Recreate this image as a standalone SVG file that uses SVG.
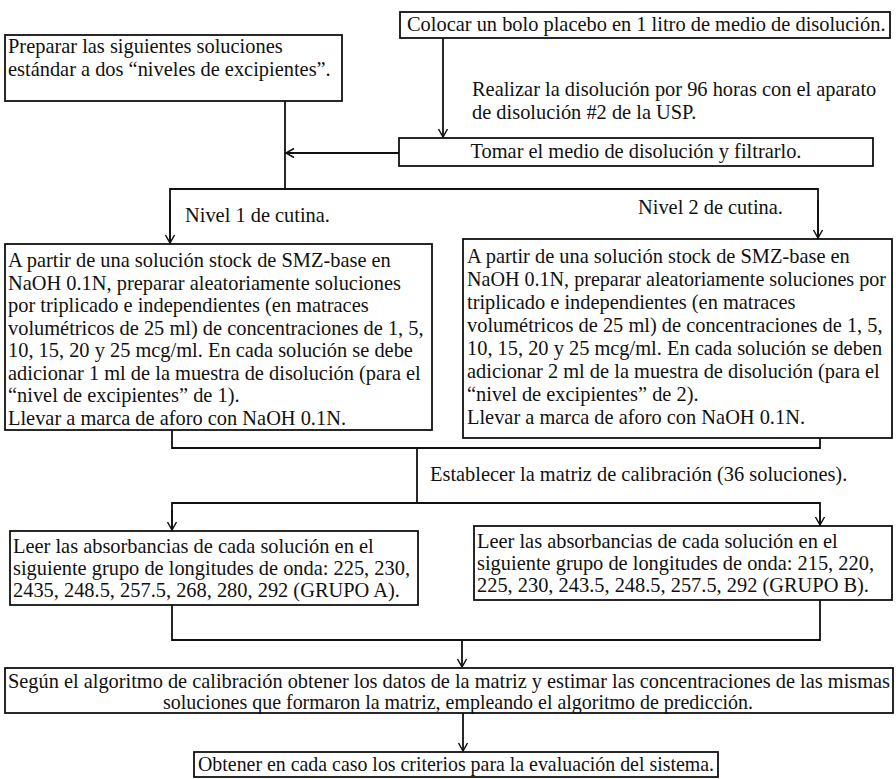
<svg xmlns="http://www.w3.org/2000/svg" width="896" height="779" viewBox="0 0 896 779">
<defs>
<style>
.box{fill:#fff;stroke:#111;stroke-width:1.8}
.t{font-family:"Liberation Serif","Times New Roman",serif;font-size:20.4px;fill:#111}
.c{text-anchor:middle}
.ln{fill:none;stroke:#111;stroke-width:1.8}
</style>
<marker id="arr" markerWidth="12" markerHeight="12" refX="10" refY="6" orient="auto" markerUnits="userSpaceOnUse">
<path d="M2,1.5 L10,6 L2,10.5" fill="none" stroke="#111" stroke-width="1.5"/>
</marker>
</defs>
<rect width="896" height="779" fill="#fff"/>

<g id="connectors">
<line class="ln" x1="443" y1="38" x2="443" y2="137" marker-end="url(#arr)"/>
<line class="ln" x1="285" y1="101" x2="285" y2="189"/>
<line class="ln" x1="399" y1="153" x2="286" y2="153" marker-end="url(#arr)"/>
<polyline class="ln" points="170,244 170,189 818,189 818,239"/>
<line class="ln" x1="170" y1="200" x2="170" y2="243" marker-end="url(#arr)"/>
<line class="ln" x1="818" y1="200" x2="818" y2="238" marker-end="url(#arr)"/>
<polyline class="ln" points="172,430 172,448 820,448 820,438"/>
<line class="ln" x1="417" y1="448" x2="417" y2="503"/>
<polyline class="ln" points="172,531 172,503 820,503 820,526"/>
<line class="ln" x1="172" y1="510" x2="172" y2="530" marker-end="url(#arr)"/>
<line class="ln" x1="820" y1="510" x2="820" y2="525" marker-end="url(#arr)"/>
<polyline class="ln" points="172,605 172,640 820,640 820,600"/>
<line class="ln" x1="462" y1="640" x2="462" y2="667" marker-end="url(#arr)"/>
<line class="ln" x1="463" y1="713" x2="463" y2="751" marker-end="url(#arr)"/>
</g>

<g id="n-colocar">
<rect class="box" x="400" y="12" width="490" height="26"/>
<text class="t" x="407" y="31">Colocar un bolo placebo en 1 litro de medio de disolución.</text>
</g>

<g id="n-preparar">
<rect class="box" x="5" y="35" width="337" height="66"/>
<text class="t" x="8" y="53">Preparar las siguientes soluciones</text>
<text class="t" x="8" y="76">estándar a dos “niveles de excipientes”.</text>
</g>

<g id="n-realizar">
<text class="t" x="472" y="96">Realizar la disolución por 96 horas con el aparato</text>
<text class="t" x="472" y="119">de disolución #2 de la USP.</text>
</g>

<g id="n-tomar">
<rect class="box" x="399" y="138" width="474" height="28"/>
<text class="t c" x="636" y="158">Tomar el medio de disolución y filtrarlo.</text>
</g>

<g id="n-nivel1">
<text class="t" x="185" y="222">Nivel 1 de cutina.</text>
</g>
<g id="n-nivel2">
<text class="t" x="638" y="214">Nivel 2 de cutina.</text>
</g>

<g id="n-left-sol">
<rect class="box" x="5" y="244" width="427" height="186"/>
<text class="t" x="8" y="267">A partir de una solución stock de SMZ-base en</text>
<text class="t" x="8" y="289.5">NaOH 0.1N, preparar aleatoriamente soluciones</text>
<text class="t" x="8" y="312">por triplicado e independientes (en matraces</text>
<text class="t" x="8" y="334.5">volumétricos de 25 ml) de concentraciones de 1, 5,</text>
<text class="t" x="8" y="357">10, 15, 20 y 25 mcg/ml. En cada solución se debe</text>
<text class="t" x="8" y="379.5">adicionar 1 ml de la muestra de disolución (para el</text>
<text class="t" x="8" y="402">“nivel de excipientes” de 1).</text>
<text class="t" x="8" y="424.5">Llevar a marca de aforo con NaOH 0.1N.</text>
</g>

<g id="n-right-sol">
<rect class="box" x="463" y="239" width="429" height="199"/>
<text class="t" x="467" y="263">A partir de una solución stock de SMZ-base en</text>
<text class="t" x="467" y="286" textLength="419" lengthAdjust="spacingAndGlyphs">NaOH 0.1N, preparar aleatoriamente soluciones por</text>
<text class="t" x="467" y="309">triplicado e independientes (en matraces</text>
<text class="t" x="467" y="332">volumétricos de 25 ml) de concentraciones de 1, 5,</text>
<text class="t" x="467" y="355">10, 15, 20 y 25 mcg/ml. En cada solución se deben</text>
<text class="t" x="467" y="378">adicionar 2 ml de la muestra de disolución (para el</text>
<text class="t" x="467" y="401">“nivel de excipientes” de 2).</text>
<text class="t" x="467" y="424">Llevar a marca de aforo con NaOH 0.1N.</text>
</g>

<g id="n-establecer">
<text class="t" x="430" y="481">Establecer la matriz de calibración (36 soluciones).</text>
</g>

<g id="n-leer-a">
<rect class="box" x="10" y="531" width="408" height="74"/>
<text class="t" x="13" y="553">Leer las absorbancias de cada solución en el</text>
<text class="t" x="13" y="575">siguiente grupo de longitudes de onda: 225, 230,</text>
<text class="t" x="13" y="597">2435, 248.5, 257.5, 268, 280, 292 (GRUPO A).</text>
</g>

<g id="n-leer-b">
<rect class="box" x="474" y="526" width="418" height="74"/>
<text class="t" x="477" y="548">Leer las absorbancias de cada solución en el</text>
<text class="t" x="477" y="570">siguiente grupo de longitudes de onda: 215, 220,</text>
<text class="t" x="477" y="592">225, 230, 243.5, 248.5, 257.5, 292 (GRUPO B).</text>
</g>

<g id="n-segun">
<rect class="box" x="5" y="668" width="888" height="45"/>
<text class="t" x="8" y="688" textLength="882" lengthAdjust="spacingAndGlyphs">Según el algoritmo de calibración obtener los datos de la matriz y estimar las concentraciones de las mismas</text>
<text class="t c" x="458" y="709" textLength="590" lengthAdjust="spacingAndGlyphs">soluciones que formaron la matriz, empleando el algoritmo de predicción.</text>
</g>

<g id="n-obtener">
<rect class="box" x="194" y="752" width="524" height="25"/>
<text class="t c" x="456" y="771" textLength="516" lengthAdjust="spacingAndGlyphs">Obtener en cada caso los criterios para la evaluación del sistema.</text>
</g>
</svg>
